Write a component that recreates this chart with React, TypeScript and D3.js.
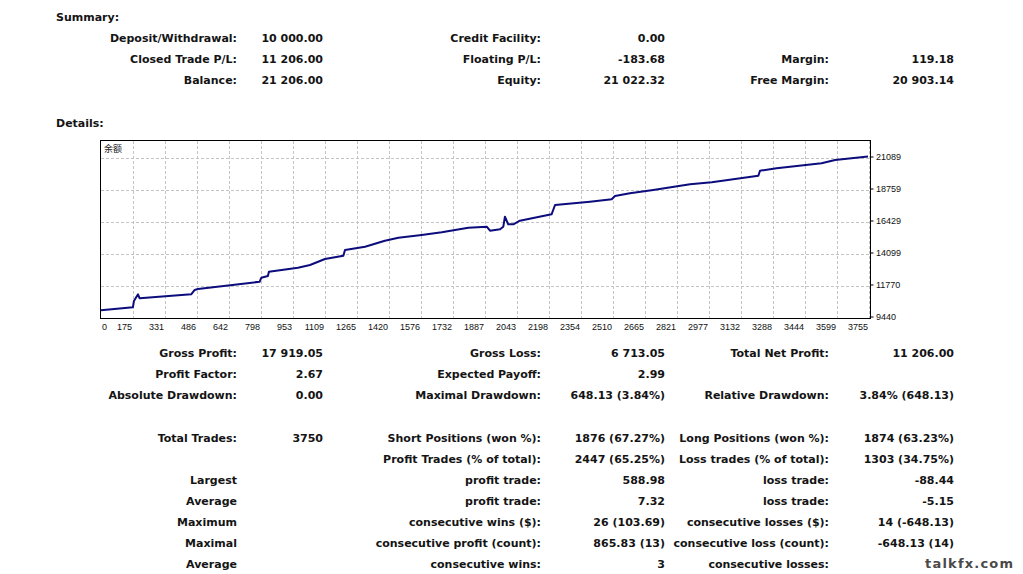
import React from 'react';
import * as d3 from 'd3';

// ---------- data ----------
const xTickLabels = ['0','175','331','486','642','798','953','1109','1265','1420','1576','1732','1887','2043','2198','2354','2510','2665','2821','2977','3132','3288','3444','3599','3755'];
const yTickValues = [9440, 11770, 14099, 16429, 18759, 21089];
const tradeNumbers = [0,156,161,181,189,441,458,474,776,784,816,821,963,1022,1095,1185,1193,1291,1388,1454,1568,1666,1796,1886,1902,1951,1967,1975,1991,2016,2048,2203,2220,2391,2497,2513,2586,2700,2880,2986,3214,3222,3303,3523,3589,3750];
const balanceValues = [10000,10219,10678,11166,10874,11166,11479,11551,12083,12374,12498,12811,13102,13299,13736,13976,14391,14631,15068,15287,15483,15680,16014,16087,15796,15898,16087,16815,16262,16262,16524,16990,17667,17907,18082,18322,18519,18759,19174,19320,19800,20165,20340,20703,20943,21206];

const summaryRows: string[][] = [
  ['Deposit/Withdrawal:', '10 000.00', 'Credit Facility:', '0.00', '', ''],
  ['Closed Trade P/L:', '11 206.00', 'Floating P/L:', '-183.68', 'Margin:', '119.18'],
  ['Balance:', '21 206.00', 'Equity:', '21 022.32', 'Free Margin:', '20 903.14'],
];
const statsRowsA: string[][] = [
  ['Gross Profit:', '17 919.05', 'Gross Loss:', '6 713.05', 'Total Net Profit:', '11 206.00'],
  ['Profit Factor:', '2.67', 'Expected Payoff:', '2.99', '', ''],
  ['Absolute Drawdown:', '0.00', 'Maximal Drawdown:', '648.13 (3.84%)', 'Relative Drawdown:', '3.84% (648.13)'],
];
const statsRowsB: string[][] = [
  ['Total Trades:', '3750', 'Short Positions (won %):', '1876 (67.27%)', 'Long Positions (won %):', '1874 (63.23%)'],
  ['', '', 'Profit Trades (% of total):', '2447 (65.25%)', 'Loss trades (% of total):', '1303 (34.75%)'],
  ['Largest', '', 'profit trade:', '588.98', 'loss trade:', '-88.44'],
  ['Average', '', 'profit trade:', '7.32', 'loss trade:', '-5.15'],
  ['Maximum', '', 'consecutive wins ($):', '26 (103.69)', 'consecutive losses ($):', '14 (-648.13)'],
  ['Maximal', '', 'consecutive profit (count):', '865.83 (13)', 'consecutive loss (count):', '-648.13 (14)'],
  ['Average', '', 'consecutive wins:', '3', 'consecutive losses:', ''],
];

// ---------- layout ----------
const W = 1023, H = 574;
const FONT = "'DejaVu Sans', sans-serif";
const colEnds = [237, 323, 541, 665, 829, 954];
const plot = { left: 101, right: 869, top: 141, bottom: 318, frameRight: 870.5 };

function TableRows({ rows, y0, step }: { rows: string[][]; y0: number; step: number }) {
  return (
    <g fontFamily={FONT} fontWeight="bold" fontSize={11} fill="#141414" textAnchor="end">
      {rows.map((r, i) =>
        r.map((t, j) => t ? (
          <text key={`${i}-${j}`} x={colEnds[j]} y={y0 + i * step}>{t}</text>
        ) : null)
      )}
    </g>
  );
}

export default function App() {
  const x = d3.scaleLinear().domain([0, 3755]).range([plot.left, plot.right]);
  const xIdx = d3.scaleLinear().domain([0, xTickLabels.length - 1]).range([plot.left, plot.right]);
  const y = d3.scaleLinear().domain([yTickValues[0], yTickValues[yTickValues.length - 1]]).range([plot.bottom, 158]);
  const pts = tradeNumbers.map((t, i) => [t, balanceValues[i]] as [number, number]);
  const line = d3.line<[number, number]>().x(d => x(d[0])).y(d => y(d[1]));

  return (
    <svg width={W} height={H} style={{ position: 'absolute', left: 0, top: 0, background: '#fff' }}>
      <rect x={0} y={0} width={W} height={H} fill="#fff" />
      <g fontFamily={FONT} fontWeight="bold" fontSize={11} fill="#141414">
        <text x={56} y={21}>Summary:</text>
        <text x={56} y={127}>Details:</text>
      </g>
      <TableRows rows={summaryRows} y0={42} step={21} />

      {/* chart */}
      <g>
        {yTickValues.slice(1).map(v => (
          <line key={v} x1={plot.left} x2={plot.frameRight} y1={Math.round(y(v)) + 0.5} y2={Math.round(y(v)) + 0.5}
            stroke="#c4c4c4" strokeDasharray="3,2" />
        ))}
        {xTickLabels.map((l, i) => i === 0 ? null : (
          <line key={l} x1={Math.round(xIdx(i)) + 0.5} x2={Math.round(xIdx(i)) + 0.5} y1={plot.top} y2={plot.bottom + 1}
            stroke="#c4c4c4" strokeDasharray="3,2" />
        ))}
        <rect x={plot.left - 0.5} y={plot.top - 0.5} width={plot.frameRight - plot.left + 0.5} height={plot.bottom - plot.top + 1}
          fill="none" stroke="#000" strokeWidth={1} />
        <path d={line(pts) || ''} fill="none" stroke="#0c0c7c" strokeWidth={2} strokeLinejoin="round" />
        <text x={104} y={152} fontFamily="'Noto Sans CJK SC', sans-serif" fontSize={9} fill="#222">余额</text>
        <g fontFamily="'Liberation Sans', sans-serif" fontSize={9} fill="#111">
          {xTickLabels.map((l, i) => (
            <text key={l} x={i === 0 ? xIdx(i) + 1 : xIdx(i) - 1} y={330} textAnchor={i === 0 ? 'start' : 'end'}>{l}</text>
          ))}
          {yTickValues.map(v => (
            <g key={v}>
              <line x1={plot.frameRight} x2={plot.frameRight + 3} y1={y(v) - 1} y2={y(v) - 1} stroke="#000" />
              <text x={876} y={y(v) + 2}>{v}</text>
            </g>
          ))}
        </g>
      </g>

      <TableRows rows={statsRowsA} y0={357} step={21} />
      <TableRows rows={statsRowsB} y0={442} step={21} />

      <text x={925} y={568} fontFamily={FONT} fontWeight="bold" fontSize={13} letterSpacing={1.2} fill="#4a4a4a">talkfx.com</text>
    </svg>
  );
}
